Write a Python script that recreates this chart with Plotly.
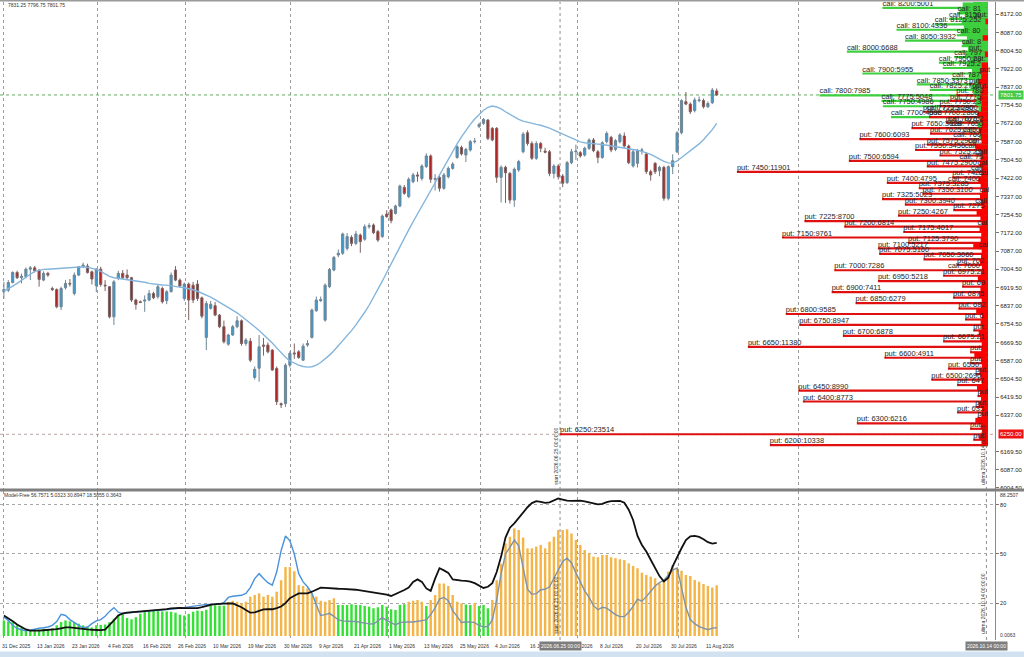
import plotly.graph_objects as go

# ---------------- daily candles (index 0 = 31 Dec 2025) ----------------
open_ = [
    6902, 6909, 6944, 6990, 6966, 6970, 7005, 7011, 7001, 6955,
    6986, 6917, 6912, 6833, 6920, 6940, 6894, 6978, 7016, 7019,
    6993, 6929, 7005, 6932, 6925, 6787, 6963, 6986, 6978, 6966,
    6864, 6856, 6859, 6864, 6894, 6879, 6917, 6861, 6902, 7001,
    6955, 6871, 6937, 6932, 6937, 6874, 6693, 6826, 6838, 6795,
    6742, 6662, 6704, 6742, 6769, 6665, 6676, 6510, 6552, 6658,
    6658, 6635, 6551, 6390, 6390, 6566, 6622, 6627, 6589, 6658,
    6693, 6815, 6861, 6772, 6925, 7001, 7070, 7078, 7100, 7151,
    7123, 7161, 7142, 7199, 7207, 7177, 7154, 7257, 7276, 7260,
    7294, 7379, 7337, 7405, 7436, 7420, 7474, 7523, 7416, 7425,
    7375, 7428, 7466, 7516, 7562, 7527, 7550, 7588, 7657, 7672,
    7687, 7649, 7649, 7425, 7471, 7443, 7321, 7459, 7542, 7629,
    7580, 7512, 7580, 7545, 7542, 7443, 7477, 7431, 7401, 7492,
    7542, 7538, 7527, 7558, 7596, 7542, 7516, 7588, 7608, 7553,
    7588, 7614, 7568, 7477, 7489, 7547, 7532, 7451, 7489, 7455,
    7471, 7329, 7474, 7542, 7629, 7771, 7760, 7730, 7776, 7776,
    7748, 7766, 7820]
high = [
    6947, 6955, 6995, 6998, 6985, 7013, 7020, 7020, 7004, 6995,
    6993, 6925, 6917, 6925, 6955, 6960, 6990, 7020, 7035, 7030,
    6998, 7010, 7016, 6955, 6928, 6955, 6998, 7001, 7004, 6970,
    6870, 6862, 6885, 6910, 6902, 6935, 6925, 6909, 6990, 7019,
    6963, 6944, 6944, 6947, 6955, 6880, 6860, 6860, 6855, 6800,
    6770, 6710, 6750, 6790, 6775, 6690, 6690, 6560, 6704, 6690,
    6670, 6640, 6560, 6395, 6575, 6630, 6665, 6635, 6665, 6680,
    6825, 6880, 6880, 6940, 7010, 7065, 7095, 7172, 7170, 7160,
    7180, 7168, 7210, 7215, 7214, 7185, 7255, 7275, 7282, 7300,
    7392, 7390, 7425, 7445, 7450, 7485, 7535, 7530, 7440, 7432,
    7445, 7475, 7495, 7572, 7570, 7560, 7596, 7605, 7675, 7696,
    7692, 7655, 7655, 7480, 7478, 7450, 7470, 7505, 7632, 7640,
    7590, 7590, 7587, 7560, 7550, 7485, 7485, 7440, 7500, 7555,
    7575, 7545, 7565, 7603, 7605, 7550, 7590, 7635, 7615, 7600,
    7627, 7630, 7575, 7550, 7555, 7560, 7540, 7460, 7495, 7478,
    7478, 7480, 7530, 7636, 7782, 7815, 7768, 7790, 7795, 7785,
    7772, 7834, 7831.25]
low = [
    6871, 6900, 6940, 6960, 6940, 6963, 6955, 6990, 6925, 6950,
    6970, 6905, 6826, 6818, 6912, 6925, 6885, 6973, 7010, 6985,
    6935, 6900, 6925, 6905, 6780, 6750, 6955, 6960, 6960, 6855,
    6820, 6850, 6810, 6858, 6868, 6870, 6848, 6845, 6899, 6950,
    6920, 6860, 6772, 6850, 6860, 6780, 6635, 6820, 6790, 6735,
    6665, 6655, 6700, 6735, 6655, 6655, 6580, 6500, 6490, 6610,
    6620, 6540, 6384, 6370, 6375, 6555, 6595, 6595, 6585, 6650,
    6688, 6810, 6855, 6765, 6918, 6995, 7060, 7070, 7090, 7110,
    7115, 7080, 7135, 7190, 7165, 7130, 7148, 7240, 7215, 7255,
    7288, 7345, 7330, 7398, 7405, 7410, 7468, 7400, 7365, 7360,
    7368, 7420, 7460, 7510, 7525, 7495, 7543, 7580, 7650, 7665,
    7595, 7590, 7400, 7310, 7308, 7305, 7290, 7450, 7535, 7570,
    7505, 7505, 7540, 7535, 7430, 7420, 7415, 7380, 7395, 7485,
    7505, 7515, 7520, 7550, 7540, 7490, 7510, 7580, 7540, 7545,
    7580, 7560, 7485, 7470, 7470, 7530, 7440, 7410, 7440, 7430,
    7318, 7320, 7440, 7535, 7622, 7755, 7715, 7722, 7768, 7740,
    7742, 7760, 7796.75]
close = [
    6912, 6944, 6990, 6966, 6973, 7005, 7011, 6998, 6958, 6986,
    6978, 6912, 6833, 6917, 6940, 6937, 6978, 7016, 7024, 6990,
    6960, 7005, 6935, 6929, 6787, 6947, 6986, 6966, 6966, 6864,
    6844, 6853, 6864, 6894, 6874, 6925, 6856, 6902, 6978, 6955,
    6928, 6937, 6864, 6864, 6871, 6790, 6848, 6845, 6795, 6742,
    6673, 6704, 6742, 6769, 6665, 6681, 6589, 6547, 6650, 6653,
    6627, 6544, 6399, 6385, 6566, 6620, 6618, 6601, 6653, 6665,
    6818, 6864, 6866, 6932, 7004, 7059, 7078, 7166, 7154, 7123,
    7166, 7131, 7199, 7204, 7172, 7138, 7248, 7245, 7227, 7294,
    7385, 7352, 7416, 7436, 7431, 7477, 7523, 7416, 7420, 7375,
    7436, 7466, 7486, 7565, 7532, 7553, 7588, 7590, 7667, 7690,
    7603, 7596, 7425, 7471, 7446, 7321, 7462, 7497, 7623, 7580,
    7512, 7580, 7558, 7540, 7443, 7477, 7428, 7398, 7492, 7542,
    7545, 7523, 7558, 7596, 7547, 7516, 7583, 7626, 7550, 7593,
    7619, 7568, 7492, 7542, 7547, 7550, 7451, 7436, 7451, 7471,
    7329, 7474, 7501, 7629, 7776, 7760, 7725, 7779, 7779, 7748,
    7763, 7824, 7801.75]
ma_line = [
    6905, 6915, 6928, 6940, 6955, 6968, 6982, 6995, 7001, 7004,
    7005, 7006, 7007, 7008, 7009, 7010, 7011, 7013, 7016, 7013,
    7009, 7004, 6995, 6985, 6972, 6966, 6963, 6960, 6958, 6956,
    6953, 6949, 6945, 6940, 6937, 6935, 6933, 6932, 6930, 6927,
    6923, 6920, 6916, 6911, 6904, 6896, 6887, 6877, 6866, 6854,
    6842, 6830, 6818, 6805, 6790, 6775, 6759, 6742, 6725, 6707,
    6688, 6667, 6645, 6622, 6602, 6585, 6574, 6566, 6560, 6557,
    6559, 6566, 6578, 6594, 6612, 6632, 6654, 6676, 6700, 6724,
    6750, 6778, 6808, 6840, 6875, 6912, 6950, 6990, 7030, 7070,
    7110, 7148, 7185, 7222, 7258, 7294, 7330, 7366, 7402, 7438,
    7474, 7510, 7545, 7578, 7610, 7640, 7667, 7692, 7714, 7732,
    7745, 7751, 7747, 7738, 7725, 7712, 7700, 7690, 7682, 7676,
    7671, 7667, 7663, 7658, 7650, 7641, 7632, 7622, 7612, 7603,
    7594, 7587, 7583, 7580, 7578, 7577, 7575, 7572, 7569, 7566,
    7563, 7560, 7557, 7553, 7549, 7544, 7538, 7530, 7520, 7509,
    7498, 7491, 7490, 7500, 7515, 7530, 7545, 7561, 7578, 7597,
    7618, 7643, 7672]

# ---------------- option open interest by strike ----------------
call_strikes = [8225, 8200, 8175, 8150, 8125, 8100, 8075, 8050, 8025, 8000,
                7975, 7950, 7925, 7900, 7875, 7850, 7825, 7800, 7775, 7750,
                7725, 7700, 7675, 7650, 7625, 7600, 7575, 7550, 7525, 7500,
                7475, 7450, 7425, 7400, 7375, 7350, 7325, 7300, 7275, 7250,
                7225, 7200, 7175, 7150, 7125, 7100, 7075, 7050, 7025, 7000,
                6975, 6950, 6925, 6900, 6875, 6850, 6800, 6750, 6700, 6650,
                6600, 6500, 6400, 6300, 6250, 6200]
call_oi = [700, 5001, 1447, 1850, 2520, 4336, 1480, 3932, 1250, 6688,
           1600, 2330, 2150, 5955, 1700, 3373, 2760, 7985, 5048, 4986,
           2900, 4598, 1900, 1750, 1200, 1650, 950, 1100, 600, 1350,
           500, 800, 450, 1900, 300, 400, 250, 600, 200, 350,
           150, 500, 150, 300, 200, 450, 150, 200, 100, 1900,
           100, 300, 80, 350, 80, 200, 250, 150, 200, 150,
           200, 150, 100, 100, 120, 80]
put_strikes = [8200, 8150, 8100, 8050, 8000, 7950, 7900,
               7850, 7825, 7800, 7775, 7750, 7725, 7700, 7675, 7650, 7625,
               7600, 7575, 7550, 7525, 7500, 7475, 7450, 7425, 7400, 7375,
               7350, 7325, 7300, 7275, 7250, 7225, 7200, 7175, 7150, 7125,
               7100, 7075, 7050, 7025, 7000, 6975, 6950, 6925, 6900, 6875,
               6850, 6825, 6800, 6775, 6750, 6725, 6700, 6675, 6650, 6625,
               6600, 6575, 6550, 6525, 6500, 6475, 6450, 6425, 6400, 6375,
               6350, 6325, 6300, 6275, 6250, 6225, 6200]
put_oi = [150, 600, 200, 300, 900, 700, 400,
          900, 600, 1500, 1800, 2300, 3080, 2800, 2000, 3628, 2750,
          6093, 2900, 3456, 2300, 6594, 2900, 11901, 1700, 4795, 3285,
          3100, 5023, 3940, 1650, 4267, 8700, 6814, 4017, 9761, 3790,
          5217, 5160, 3060, 1470, 7286, 2130, 5218, 1230, 7411, 1660,
          6279, 1400, 9585, 1090, 8947, 700, 6878, 2130, 11380, 850,
          4911, 850, 1900, 600, 2690, 1470, 8990, 500, 8773, 600,
          1470, 500, 6216, 850, 23514, 700, 10338]
# in-between strikes (the dense strip at the right edge)
minor_strikes = [6212.5 + 25 * k for k in range(81)]
minor_call = [60, 0, 80, 0, 50, 0, 90, 0, 60, 0,
              70, 0, 100, 0, 60, 0, 120, 0, 80, 0,
              90, 0, 110, 0, 70, 0, 130, 0, 90, 60,
              100, 0, 120, 80, 0, 140, 0, 90, 150, 0,
              110, 160, 0, 130, 180, 0, 150, 200, 120, 180,
              250, 180, 300, 220, 350, 260, 420, 300, 480, 380,
              520, 450, 600, 550, 700, 820, 650, 900, 760, 1000,
              850, 1100, 950, 1200, 1000, 1300, 1150, 1250, 1050, 1350,
              1200]
minor_put = [300, 420, 280, 350, 600, 310, 290, 450, 330, 380,
             520, 300, 360, 410, 290, 340, 650, 320, 300, 380,
             440, 310, 350, 290, 560, 330, 300, 420, 360, 310,
             480, 340, 290, 380, 330, 300, 700, 350, 320, 400,
             310, 360, 540, 300, 330, 380, 290, 350, 460, 320,
             300, 390, 350, 330, 600, 310, 340, 420, 300, 360,
             500, 330, 310, 380, 350, 300, 450, 320, 360, 300,
             0, 150, 0, 0, 250, 0, 0, 120, 0, 0,
             0]

# ---------------- Model-Free sub window ----------------
mf_bars = [
    9.5, 9, 8.3, 6.5, 5, 4, 3.8, 3.8, 4, 4.5,
    4.2, 4.6, 6.5, 8.5, 9.5, 9, 8.5, 7.5, 6.5, 5.5,
    5.2, 6.5, 6.8, 7, 8.5, 10.5, 13, 14, 11, 10.2,
    11.5, 13.5, 14.8, 15.2, 15.5, 15.2, 15, 15, 14.8, 14.2,
    13, 12.5, 13.5, 14.8, 15.5, 15.2, 16, 18.5, 18.8, 18.5,
    18.5, 20.8, 21.5, 20.9, 19.9, 20.9, 24, 25, 26, 24,
    25, 24, 27, 34, 42, 42, 39.5, 31, 30.5, 29,
    26, 24, 21.5, 20.9, 21.9, 23, 18.9, 18.9, 18.9, 19.4,
    18.9, 18.9, 18.3, 17.9, 16.9, 17.5, 18.9, 17.9, 16.3, 15.9,
    18.9, 19.4, 20.9, 21.5, 21.9, 20.9, 18.3, 21.9, 25, 32,
    32, 30.5, 25, 20.9, 19.9, 19.2, 18.9, 20.2, 18.3, 18.9,
    16.9, 22, 34, 44, 56.5, 60.5, 65.6, 64.6, 60, 53.4,
    53.4, 54.5, 55.5, 53.4, 57.5, 60.5, 64.6, 64.6, 65, 62.5,
    58.5, 55.5, 52.4, 50.4, 48.4, 48, 49.4, 49.4, 48, 47.4,
    46.8, 46.3, 44.3, 42.7, 41.3, 38.6, 37.2, 36.2, 35.2, 32.1,
    33.1, 39.2, 43.3, 41.3, 39.8, 37.2, 36.6, 34.1, 33.1, 31.7,
    30.5, 29.5, 30.89]
mf_black = [
    12.5, 11, 9, 7, 5.5, 4, 3.3, 3.2, 3.3, 3.5,
    3.6, 3.8, 4.2, 4.7, 5.2, 5.2, 4.8, 4.4, 4.2, 4,
    3.8, 3.6, 3.6, 3.9, 6.5, 9.5, 12.5, 13.8, 14.2, 14.4,
    14.6, 14.8, 15, 15.3, 15.6, 16, 16.2, 16.4, 16.8, 17.2,
    17.2, 17, 16.9, 16.9, 17, 17.6, 18.4, 19, 19.4, 19.7,
    19.9, 19.9, 19.8, 18.8, 17.5, 15.8, 14.2, 14.4, 15.5, 16.2,
    16.3, 16.3, 17, 18, 20, 23, 24.5, 26, 26, 26,
    27, 28, 29.4, 29.3, 29, 28.9, 28.8, 28.7, 28.6, 28.4,
    28.2, 27.8, 27.4, 27, 26.6, 26.2, 26, 25.2, 24.4, 25.5,
    26.8, 28, 29.5, 33, 34.5, 33, 29, 27.5, 35, 41.3,
    40, 38.5, 34.5, 34, 33.8, 33.6, 33.2, 32.2, 30.8, 29.3,
    30, 32.2, 39, 48.4, 60, 66, 68.7, 72, 75.5, 78.5,
    81, 82.2, 81.8, 81.2, 81.5, 82.8, 83.8, 83.2, 82.5, 82.4,
    82.5, 82.5, 82, 81.4, 80.8, 80.2, 80.5, 81.6, 82.2, 82.5,
    82.4, 81.2, 77, 70.7, 61, 55.5, 51.5, 46.5, 41.5, 36.5,
    33.2, 35.5, 42.5, 48.5, 53.5, 58.5, 60.8, 61, 60.4, 59,
    57.2, 56.3, 56.76]
mf_blue = [
    11.5, 9.5, 6.5, 4.6, 3.8, 3.2, 3.5, 4.2, 4.7, 5,
    5.5, 6.5, 8.8, 13.2, 12.5, 10, 8, 6.5, 5, 5.5,
    7.5, 9.2, 10, 12, 15, 17.3, 14.5, 13.5, 14, 14.5,
    14.6, 14.8, 15, 15.2, 15.2, 15.5, 15.8, 16, 16.3, 16.6,
    17, 17.4, 17.8, 18.2, 18.5, 19, 19.3, 19.3, 19.2, 19.3,
    20.5, 23.5, 24.2, 24.3, 24.8, 26, 29.5, 35, 38, 35,
    32.5, 31, 39, 52, 61, 58, 50, 38, 33, 30,
    26, 19, 12.5, 13, 13.8, 12, 9.8, 9.2, 8.8, 8.8,
    8.8, 8.2, 7.7, 7.4, 7.3, 9, 11.2, 9.5, 8.2, 6.8,
    8.2, 8.5, 8.6, 8.5, 8.8, 9.2, 9.8, 13, 17.2, 22.5,
    23.5, 21.5, 15.5, 12, 8.2, 8.5, 8.6, 8.2, 6.3, 5.6,
    5.8, 9.8, 22, 38, 50, 54, 58.5, 55, 42, 28.5,
    25.5, 25.8, 28.2, 28.5, 30, 35.5, 41, 45.5, 47.4, 44.5,
    38.5, 32.5, 27.5, 23.5, 18.5, 16, 17.5, 17, 15, 13,
    11.8, 11.8, 14.5, 18, 22.5, 21.2, 24, 27.5, 30.5, 32.5,
    34, 37, 40.2, 41.5, 30, 17.5, 10, 7.5, 5.7, 4.5,
    3.8, 4.8, 5.03]

date_labels = ["31 Dec 2025", "13 Jan 2026", "23 Jan 2026", "4 Feb 2026", "16 Feb 2026",
               "26 Feb 2026", "10 Mar 2026", "19 Mar 2026", "30 Mar 2026", "9 Apr 2026",
               "21 Apr 2026", "1 May 2026", "13 May 2026", "25 May 2026", "4 Jun 2026",
               "16 Jun 2026", "26 Jun 2026", "8 Jul 2026", "20 Jul 2026", "30 Jul 2026",
               "11 Aug 2026"]
price_ticks = [8172.0, 8087.0, 8004.5, 7922.0, 7837.0, 7754.5, 7672.0, 7587.0, 7504.5,
               7422.0, 7337.0, 7254.5, 7172.0, 7087.0, 7004.5, 6919.5, 6837.0, 6754.5,
               6669.5, 6587.0, 6504.5, 6419.5, 6337.0, 6169.5, 6087.0, 6004.5]
mf_ticks = [20, 50, 80]
last_price = 7801.75
level_6250 = 6250.0

# ---------------- layout helpers ----------------
FONT = "Liberation Sans"
LABEL_SIZE = 7.5
idx = list(range(len(close)))
x_range = [-0.886, 225.25]          # bar index across the plot width
grid_idx = [0.0, 21.2, 41.2, 65.2, 87.3, 108.4, 130.3, 153.4, 180.5]  # month starts
start_idx = 126.4                   # 2026.06.25
ultima_idx = 223.3                  # 2026.10.14
plot_w = 995.0
oi_px = 0.0211                      # pixels per contract
anchor_px = 988.0
x3_range = [anchor_px / oi_px, -(plot_w - anchor_px) / oi_px]
start_px = (start_idx - x_range[0]) / (x_range[1] - x_range[0]) * plot_w
oi_cap = (anchor_px - start_px) / oi_px

main_dom = [0.2367, 1.0]
sub_dom = [0.0, 0.2328]

fig = go.Figure()

fig.add_trace(go.Candlestick(
    x=idx, open=open_, high=high, low=low, close=close,
    xaxis="x", yaxis="y", whiskerwidth=0,
    increasing=dict(line=dict(color="#6f8594", width=1), fillcolor="#3c9ad2"),
    decreasing=dict(line=dict(color="#7d6262", width=1), fillcolor="#b51e1e"),
    hoverinfo="skip"))
fig.add_trace(go.Scatter(x=idx, y=ma_line, mode="lines",
                         line=dict(color="#84b5dc", width=1.4), hoverinfo="skip"))


def shown(vals):
    # bars are stopped at the "start" line, as on the terminal
    return [min(v, oi_cap) for v in vals]


def clipped(text, v):
    # the terminal clips labels at the right border of the window
    left = anchor_px - min(v, oi_cap) * oi_px + 2
    room = int((plot_w - 1 - left) / (LABEL_SIZE * 0.54))
    return text[:max(room, 1)]


fig.add_trace(go.Bar(x=shown(call_oi), y=call_strikes, orientation="h", xaxis="x3", yaxis="y",
                     width=10, marker=dict(color="#3ecf3e", line=dict(width=0)), hoverinfo="skip"))
fig.add_trace(go.Bar(x=shown(put_oi), y=put_strikes, orientation="h", xaxis="x3", yaxis="y",
                     width=10, marker=dict(color="#e01010", line=dict(width=0)), hoverinfo="skip"))
fig.add_trace(go.Bar(x=minor_call, y=minor_strikes, orientation="h", xaxis="x3", yaxis="y",
                     width=25, marker=dict(color="#3ecf3e", line=dict(width=0)), hoverinfo="skip"))
fig.add_trace(go.Bar(x=minor_put, y=minor_strikes, orientation="h", xaxis="x3", yaxis="y",
                     width=25, marker=dict(color="#ff0000", line=dict(width=0)), hoverinfo="skip"))

for kind, strikes, vals in (("call", call_strikes, call_oi), ("put", put_strikes, put_oi)):
    keep = [(s, v) for s, v in zip(strikes, vals) if v >= 400]
    fig.add_trace(go.Scatter(
        x=shown([v for _, v in keep]), y=[s for s, _ in keep], mode="text",
        text=[clipped(f"{kind}: {s}:{v}", v) for s, v in keep], textposition="top right",
        textfont=dict(family=FONT, size=LABEL_SIZE, color="#262626"),
        xaxis="x3", yaxis="y", hoverinfo="skip"))

# Model-Free window
bar_colors = ["#f4b446" if v > 19.7 else "#35e035" for v in mf_bars]
fig.add_trace(go.Bar(x=idx, y=mf_bars, xaxis="x2", yaxis="y2", width=0.55,
                     marker=dict(color=bar_colors, line=dict(width=0)), hoverinfo="skip"))
fig.add_trace(go.Scatter(x=idx[:72], y=mf_blue[:72], xaxis="x2", yaxis="y2", mode="lines",
                         line=dict(color="#4a92dc", width=1.4), hoverinfo="skip"))
fig.add_trace(go.Scatter(x=idx[71:], y=mf_blue[71:], xaxis="x2", yaxis="y2", mode="lines",
                         line=dict(color="#7f93a6", width=1.4), hoverinfo="skip"))
fig.add_trace(go.Scatter(x=idx, y=mf_black, xaxis="x2", yaxis="y2", mode="lines",
                         line=dict(color="#111111", width=1.8), hoverinfo="skip"))


def px_y(p):
    return (640 - p) / 638.0


ann = [
    dict(x=0.006, y=px_y(5), xref="paper", yref="paper", xanchor="left", yanchor="middle",
         text="7831.25 7796.75 7801.75", font=dict(size=5, color="#333")),
    dict(x=0.002, y=px_y(495), xref="paper", yref="paper", xanchor="left", yanchor="middle",
         text="Model-Free 56.7571 5.0323 30.8947 18.5855 0.3643", font=dict(size=5, color="#333")),
]
for k, lab in enumerate(date_labels):
    ann.append(dict(x=8 * k, y=px_y(645.5), xref="x", yref="paper", xanchor="left", yanchor="middle",
                    xshift=-4, text=lab, font=dict(size=5, color="#333")))
for yb in (main_dom[0] + 0.003, 0.006):
    ann.append(dict(x=start_idx, y=yb, xref="x", yref="paper", xanchor="right", yanchor="bottom",
                    xshift=1, textangle=-90, text="start 2026.06.25 00:00:00",
                    font=dict(size=5, color="#333")))
    ann.append(dict(x=ultima_idx, y=yb, xref="x", yref="paper", xanchor="right", yanchor="bottom",
                    xshift=1, textangle=-90, text="ultima 2026.10.14 00:00:00",
                    font=dict(size=5, color="#333")))
for xi, lab in ((start_idx, "2026.06.25 00:00"), (ultima_idx, "2026.10.14 00:00")):
    ann.append(dict(x=xi, y=px_y(645.5), xref="x", yref="paper", xanchor="center", yanchor="middle",
                    text=lab, bgcolor="#7d7d7d", borderpad=1, font=dict(size=5, color="white")))
ann.append(dict(x=1.003, y=last_price, xref="paper", yref="y", xanchor="left", yanchor="middle",
                text=f"{last_price:.2f}", bgcolor="#45c845", borderpad=1,
                font=dict(size=6, color="white")))
ann.append(dict(x=1.003, y=level_6250, xref="paper", yref="y", xanchor="left", yanchor="middle",
                text=f"{level_6250:.2f}", bgcolor="#ee1111", borderpad=1,
                font=dict(size=6, color="white")))
ann.append(dict(x=1.003, y=86.0, xref="paper", yref="y2", xanchor="left", yanchor="middle",
                text="88.2507", font=dict(size=5, color="#333")))
ann.append(dict(x=1.003, y=0.5, xref="paper", yref="y2", xanchor="left", yanchor="middle",
                text="0.0063", font=dict(size=5, color="#333")))
for a in ann:
    a["showarrow"] = False

shapes = [
    dict(type="line", xref="paper", x0=0, x1=1, yref="y", y0=level_6250, y1=level_6250,
         line=dict(color="#b9a4a4", width=1, dash="dot"), layer="below"),
    dict(type="line", xref="paper", x0=0, x1=1, yref="y", y0=last_price, y1=last_price,
         line=dict(color="#5fae5f", width=1, dash="dot"), layer="below"),
    dict(type="line", xref="x", x0=start_idx, x1=start_idx, yref="paper", y0=0, y1=1,
         line=dict(color="#8f8f8f", width=1, dash="dot"), layer="below"),
    dict(type="line", xref="x", x0=ultima_idx, x1=ultima_idx, yref="paper", y0=0, y1=1,
         line=dict(color="#8f8f8f", width=1, dash="dot"), layer="below"),
    dict(type="line", xref="paper", x0=0, x1=1.03, yref="paper", y0=px_y(490), y1=px_y(490),
         line=dict(color="#808080", width=3)),
    dict(type="line", xref="paper", x0=0, x1=1.03, yref="paper", y0=px_y(0.5), y1=px_y(0.5),
         line=dict(color="#9a9a9a", width=2)),
    dict(type="rect", xref="paper", x0=0, x1=1.03, yref="paper", y0=px_y(657), y1=px_y(651.5),
         fillcolor="#d3e2f1", line=dict(width=0)),
]

xgrid = dict(range=x_range, showticklabels=False, tickvals=grid_idx, ticks="",
             showgrid=True, gridcolor="#9c9c9c", griddash="dot", gridwidth=1,
             zeroline=False, showline=False)
fig.update_layout(
    width=1024, height=657, margin=dict(l=0, r=29, t=2, b=17),
    paper_bgcolor="white", plot_bgcolor="white", showlegend=False,
    barmode="overlay", font=dict(family=FONT, color="#333"),
    xaxis=dict(domain=[0, 1], anchor="y", rangeslider=dict(visible=False), **xgrid),
    xaxis2=dict(domain=[0, 1], anchor="y2", matches="x", **xgrid),
    xaxis3=dict(overlaying="x", anchor="y", range=x3_range, visible=False),
    yaxis=dict(domain=main_dom, range=[5999.8, 8226.9], side="right", anchor="x",
               tickvals=price_ticks, ticktext=[f"{p:.2f}" for p in price_ticks],
               tickfont=dict(size=6, color="#222"), ticks="outside", ticklen=3, tickcolor="#777",
               showline=True, linecolor="#8a8a8a", linewidth=1, showgrid=False, zeroline=False),
    yaxis2=dict(domain=sub_dom, range=[-2.44, 88.1], side="right", anchor="x2",
                tickvals=mf_ticks, ticktext=[str(t) for t in mf_ticks],
                tickfont=dict(size=5.5, color="#222"), ticks="outside", ticklen=3, tickcolor="#777",
                showline=True, linecolor="#8a8a8a", linewidth=1,
                showgrid=True, gridcolor="#a8a8a8", griddash="dot", zeroline=False),
    annotations=ann, shapes=shapes,
)

fig.write_html("out.html", config={"displayModeBar": False},
               post_script="document.body.style.margin='0';")
